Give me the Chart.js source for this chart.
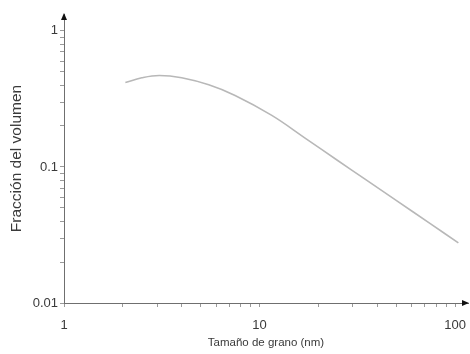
<!DOCTYPE html>
<html>
<head>
<meta charset="utf-8">
<script src="https://cdn.jsdelivr.net/npm/chart.js@4"></script>
<style>
  html, body { margin: 0; padding: 0; background: #fff; }
  #grainChart { display: block; }
</style>
</head>
<body>
<canvas id="grainChart" width="470" height="354"></canvas>
<script>
// grain size (nm) vs volume fraction
const grainSize = [2.06, 2.5, 3.07, 4.0, 5.5, 7.5, 11.5, 17.1, 25, 34.5, 50, 74.7, 104];
const volumeFraction = [0.417, 0.452, 0.47, 0.452, 0.401, 0.335, 0.240, 0.163, 0.112, 0.0817, 0.0568, 0.0383, 0.0277];

const xDecades = [1, 10, 100];
const xDecadeLabels = ['1', '10', '100'];
const yDecades = [0.01, 0.1, 1];
const yDecadeLabels = ['0.01', '0.1', '1'];

const FONT = "'Liberation Sans', Arial, Helvetica, sans-serif";
const AXIS = '#6f6f6f';
const TEXT = '#3a3a3a';

// keep only 1..9 x 10^n ticks (drop the 1.5 steps and the end value)
function keepWholeMantissa(scale) {
  scale.ticks = scale.ticks.filter(t => {
    const m = t.value / Math.pow(10, Math.floor(Math.log10(t.value) + 1e-9));
    return Math.abs(m - Math.round(m)) < 1e-6;
  });
}

function decadeLabel(values, labels) {
  return function (value) {
    const i = values.findIndex(v => Math.abs(v - value) / v < 1e-6);
    return i >= 0 ? labels[i] : '';
  };
}

// small filled arrow heads at the ends of both axes
const axisArrows = {
  id: 'axisArrows',
  afterDraw(chart) {
    const { ctx, chartArea } = chart;
    const x0 = chartArea.left, y0 = chartArea.bottom;
    ctx.save();
    ctx.fillStyle = '#111';
    ctx.beginPath();
    ctx.moveTo(x0, chartArea.top - 1);
    ctx.lineTo(x0 - 3, chartArea.top + 6);
    ctx.lineTo(x0 + 3, chartArea.top + 6);
    ctx.closePath();
    ctx.fill();
    ctx.beginPath();
    ctx.moveTo(chartArea.right + 1, y0);
    ctx.lineTo(chartArea.right - 6, y0 - 3);
    ctx.lineTo(chartArea.right - 6, y0 + 3);
    ctx.closePath();
    ctx.fill();
    ctx.restore();
  }
};

new Chart(document.getElementById('grainChart'), {
  type: 'scatter',
  data: {
    datasets: [{
      data: grainSize.map((x, i) => ({ x, y: volumeFraction[i] })),
      showLine: true,
      borderColor: '#b8b8b8',
      borderWidth: 1.6,
      pointRadius: 0,
      tension: 0.4,
      fill: false
    }]
  },
  options: {
    responsive: false,
    animation: false,
    layout: { padding: { top: 14, right: 2, left: 0, bottom: 0 } },
    plugins: {
      legend: { display: false },
      tooltip: { enabled: false }
    },
    scales: {
      x: {
        type: 'logarithmic',
        min: 1,
        max: 116.5,
        afterBuildTicks: keepWholeMantissa,
        afterFit(scale) {
          scale.height = 51;
          scale.paddingLeft = 0;
          scale.paddingRight = 0;
        },
        border: { color: AXIS, width: 1 },
        grid: { drawOnChartArea: false, drawTicks: true, tickLength: 4, color: '#9a9a9a' },
        ticks: {
          autoSkip: false,
          maxRotation: 0,
          padding: 11,
          color: TEXT,
          font: { family: FONT, size: 13 },
          callback: decadeLabel(xDecades, xDecadeLabels)
        },
        title: {
          display: true,
          text: 'Tamaño de grano (nm)',
          color: TEXT,
          font: { family: FONT, size: 11.5 },
          padding: { top: 0, bottom: 4 }
        }
      },
      y: {
        type: 'logarithmic',
        min: 0.01,
        max: 1.33,
        afterBuildTicks: keepWholeMantissa,
        afterFit(scale) {
          scale.width = 64;
          scale.paddingTop = 0;
          scale.paddingBottom = 0;
        },
        border: { color: AXIS, width: 1 },
        grid: { drawOnChartArea: false, drawTicks: true, tickLength: 4, color: '#9a9a9a' },
        ticks: {
          autoSkip: false,
          padding: 2,
          color: TEXT,
          font: { family: FONT, size: 13 },
          callback: decadeLabel(yDecades, yDecadeLabels)
        },
        title: {
          display: true,
          text: 'Fracción del volumen',
          color: TEXT,
          font: { family: FONT, size: 15.5 },
          padding: { top: 7, bottom: 0 }
        }
      }
    }
  },
  plugins: [axisArrows]
});
</script>
</body>
</html>
